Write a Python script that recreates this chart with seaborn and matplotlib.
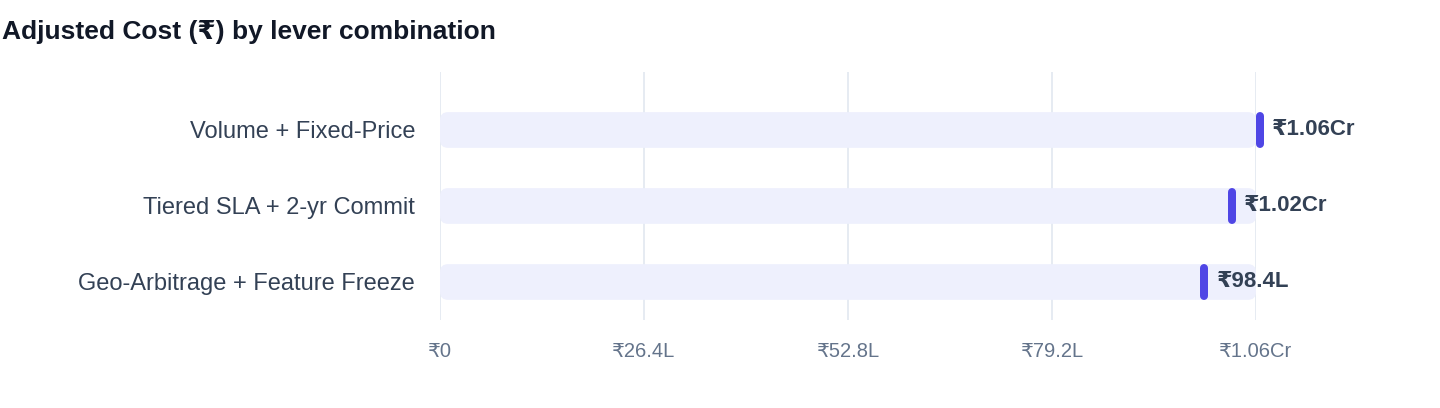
import matplotlib
matplotlib.use("Agg")
import matplotlib.pyplot as plt
from matplotlib.patches import FancyBboxPatch
import seaborn as sns
import pandas as pd

# ===============================
# DATA (values in lakh rupees)
# ===============================
combos = ["Volume + Fixed-Price", "Tiered SLA + 2-yr Commit", "Geo-Arbitrage + Feature Freeze"]
adjusted_cost = [105.6, 102.0, 98.4]
x_ticks = [0, 26.4, 52.8, 79.2, 105.6]
axis_max = max(adjusted_cost)


def fmt_inr(v):
    if v == 0:
        return "₹0"
    if v >= 100:
        return f"₹{v / 100:.2f}Cr"
    return f"₹{v:.1f}L"


df = pd.DataFrame({"combo": combos, "cost": adjusted_cost, "track": [axis_max] * len(combos)})

# ===============================
# STYLE
# ===============================
sns.set_theme(style="white")
plt.rcParams["font.family"] = ["Liberation Sans", "DejaVu Sans"]

TRACK = "#EEF0FD"
MARK = "#4F46E5"
GRID = "#E2E8F0"
LABEL = "#334155"
TICK = "#64748B"
TITLE = "#111827"

fig = plt.figure(figsize=(14.4, 4.08), dpi=100)
ax = fig.add_axes([440 / 1440, 88 / 408, (1256 - 440) / 1440, 248 / 408])

# background tracks via seaborn, then swapped for rounded boxes
sns.barplot(data=df, x="track", y="combo", color=TRACK, width=0.47, ax=ax,
            orient="h", saturation=1)
px_x = (1256 - 440) / axis_max       # pixels per data unit (x)
px_y = 76                            # pixels per category (y)
r_px = 8
for p in list(ax.patches):
    x0, y0 = p.get_x(), p.get_y()
    w, h = p.get_width(), p.get_height()
    p.remove()
    box = FancyBboxPatch((x0, y0), w, h,
                         boxstyle=f"round,pad=0,rounding_size={r_px / px_x}",
                         mutation_aspect=(1 / px_y) / (1 / px_x),
                         facecolor=TRACK, edgecolor="none", zorder=1)
    ax.add_patch(box)

# value markers (pills, left edge at the value) and labels
half = (18 - 4) / px_y
for i, v in enumerate(adjusted_cost):
    xc = v + 4 / px_x
    ax.plot([xc, xc], [i - half, i + half], color=MARK, lw=8 * 0.72,
            solid_capstyle="round", zorder=3, clip_on=False)
    ax.text(v + 16 / px_x, i, fmt_inr(v), va="center", ha="left",
            fontsize=16, fontweight="bold", color=LABEL, clip_on=False)

# axes cosmetics
ax.set_xlim(0, axis_max)
ax.set_ylim(2.5, -0.763)
ax.set_xticks(x_ticks)
ax.set_xticklabels([fmt_inr(t) for t in x_ticks])
ax.xaxis.grid(True, color=GRID, lw=1.2)
ax.set_axisbelow(True)
for s in ax.spines.values():
    s.set_visible(False)
ax.tick_params(axis="x", length=0, pad=16, labelsize=14.5, labelcolor=TICK)
ax.tick_params(axis="y", length=0, pad=18, labelsize=17, labelcolor=LABEL)
ax.set_xlabel("")
ax.set_ylabel("")

fig.text(2 / 1440, 1 - 32 / 408, "Adjusted Cost (₹) by lever combination",
         fontsize=19, fontweight="bold", color=TITLE, va="center", ha="left")

fig.savefig("out.png", dpi=100)
plt.close(fig)
